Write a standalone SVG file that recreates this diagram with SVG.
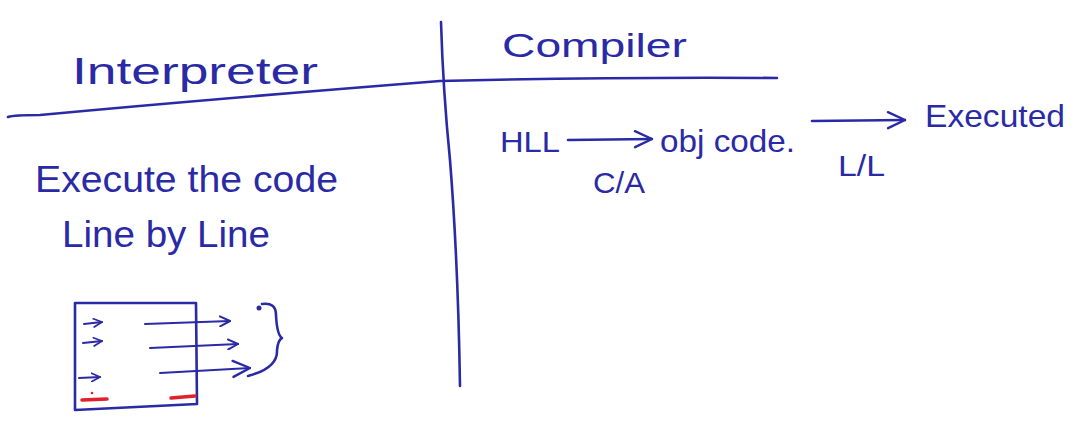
<svg xmlns="http://www.w3.org/2000/svg" width="1081" height="428" viewBox="0 0 1081 428">
<style>
.ink{fill:none;stroke:#2a2aa6;stroke-width:2.6;stroke-linecap:round;stroke-linejoin:round}
.thin{stroke-width:2}
.red{fill:none;stroke:#e0202a;stroke-width:3.5;stroke-linecap:round}
.t{fill:#2a2aa6;font-family:"Liberation Sans","DejaVu Sans",sans-serif;}
</style>
<defs>
<marker id="ah" viewBox="0 0 12 12" refX="11" refY="6" markerWidth="12" markerHeight="12" markerUnits="userSpaceOnUse" orient="auto">
<path d="M1,1 L11,6 L1,11" fill="none" stroke="#2a2aa6" stroke-width="2" stroke-linecap="round" stroke-linejoin="round"/>
</marker>
<marker id="ahs" viewBox="0 0 12 12" refX="11" refY="6" markerWidth="10" markerHeight="10" markerUnits="userSpaceOnUse" orient="auto">
<path d="M1,1 L11,6 L1,11" fill="none" stroke="#2a2aa6" stroke-width="2" stroke-linecap="round" stroke-linejoin="round"/>
</marker>
<marker id="ahb" viewBox="0 0 20 20" refX="19" refY="10" markerWidth="20" markerHeight="20" markerUnits="userSpaceOnUse" orient="auto">
<path d="M2,2 L19,10 L2,18" fill="none" stroke="#2a2aa6" stroke-width="2.4" stroke-linecap="round" stroke-linejoin="round"/>
</marker>
</defs>
<rect width="1081" height="428" fill="#ffffff"/>

<g id="dividers">
<path class="ink" d="M8,117 Q14,115 40,115 Q200,100 440,81 Q600,77 777,78"/>
<path class="ink" d="M441,22 Q443,90 450,160 Q458,260 460,386"/>
</g>

<g id="interpreter-title">
<text class="t" x="72" y="84" font-size="36" textLength="246" lengthAdjust="spacingAndGlyphs">Interpreter</text>
</g>
<g id="compiler-title">
<text class="t" x="502" y="57" font-size="34" textLength="185" lengthAdjust="spacingAndGlyphs">Compiler</text>
</g>
<g id="execute-note">
<text class="t" x="35" y="192" font-size="36" textLength="303" lengthAdjust="spacingAndGlyphs">Execute the code</text>
<text class="t" x="62" y="247" font-size="36" textLength="208" lengthAdjust="spacingAndGlyphs">Line by Line</text>
</g>

<g id="hll">
<text class="t" x="500" y="152" font-size="30" textLength="60" lengthAdjust="spacingAndGlyphs">HLL</text>
</g>
<g id="objcode">
<text class="t" x="660" y="152" font-size="32" textLength="135" lengthAdjust="spacingAndGlyphs">obj code.</text>
</g>
<g id="executed">
<text class="t" x="925" y="127" font-size="32" textLength="140" lengthAdjust="spacingAndGlyphs">Executed</text>
</g>
<g id="label-ca">
<text class="t" x="593" y="193" font-size="30" textLength="52" lengthAdjust="spacingAndGlyphs">C/A</text>
</g>
<g id="label-ll">
<text class="t" x="838" y="176" font-size="30" textLength="47" lengthAdjust="spacingAndGlyphs">L/L</text>
</g>

<g id="code-box">
<path class="ink" d="M75,303 L75,410 L197,404 L196,303 Z"/>
<path class="red" d="M82,400 L107,399"/>
<circle cx="92" cy="393" r="1.3" fill="#e0202a"/>
<path class="red" d="M171,398 L195,396"/>
<circle cx="259" cy="308" r="2.5" fill="#2a2aa6"/>
<path class="ink" d="M262,304 Q276,302 276,315 Q277,335 282,338 Q278,340 277,350 Q278,368 248,376"/>
</g>

<g id="connectors">
<path class="ink" d="M568,140 L652,139" marker-end="url(#ahb)"/>
<path class="ink" d="M812,121 L905,120" marker-end="url(#ahb)"/>
<path class="ink thin" d="M84,324 L102,322" marker-end="url(#ahs)"/>
<path class="ink thin" d="M83,343 L102,341" marker-end="url(#ahs)"/>
<path class="ink thin" d="M79,378 L100,377" marker-end="url(#ahs)"/>
<path class="ink thin" d="M145,324 L230,321" marker-end="url(#ah)"/>
<path class="ink thin" d="M150,348 L238,344" marker-end="url(#ah)"/>
<path class="ink thin" d="M160,373 L250,368" marker-end="url(#ahb)"/>
</g>
</svg>
